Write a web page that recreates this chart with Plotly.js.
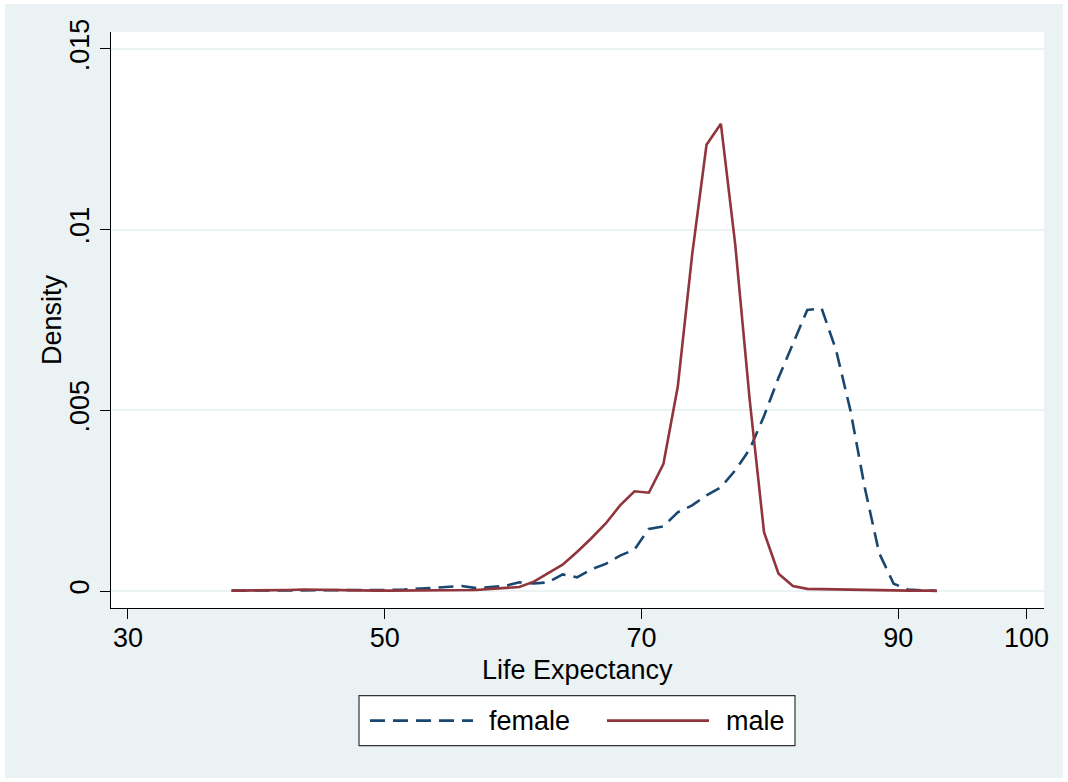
<!DOCTYPE html>
<html>
<head>
<meta charset="utf-8">
<script src="https://cdn.plot.ly/plotly-3.0.1.min.js"></script>
<style>
  html, body { margin: 0; padding: 0; background: #ffffff; }
  #chart { position: absolute; left: 5px; top: 4px; width: 1058px; height: 774px; }
</style>
</head>
<body>
<div id="chart"></div>
<script>
// Evaluation points (Life Expectancy)
var lifeExp = [38.07, 39.19, 40.31, 41.43, 42.55, 43.68, 44.80, 45.92, 47.04, 48.16,
               49.28, 50.40, 51.52, 52.65, 53.77, 54.89, 56.01, 57.13, 58.25, 59.37,
               60.49, 61.62, 62.74, 63.86, 64.98, 66.10, 67.22, 68.34, 69.46, 70.58,
               71.71, 72.83, 73.95, 75.07, 76.19, 77.31, 78.43, 79.55, 80.68, 81.80,
               82.92, 84.04, 85.16, 86.28, 87.40, 88.52, 89.65, 90.77, 91.89, 93.01];

var femaleDensity = [0.00001, 0.00001, 0.00001, 0.00001, 0.00002, 0.00002, 0.00002, 0.00003, 0.00002, 0.00003,
                     0.00003, 0.00003, 0.00004, 0.00007, 0.00008, 0.00013, 0.00014, 0.00008, 0.00010, 0.00014,
                     0.00024, 0.00021, 0.00024, 0.00046, 0.00038, 0.00060, 0.00075, 0.00098, 0.00115, 0.00172,
                     0.00179, 0.00218, 0.00237, 0.00265, 0.00287, 0.00334, 0.00392, 0.00484, 0.00590, 0.00686,
                     0.00778, 0.00782, 0.00667, 0.00500, 0.00286, 0.00105, 0.00020, 0.00004, 0.00001, 0.00000];

var maleDensity = [0.00001, 0.00001, 0.00001, 0.00002, 0.00003, 0.00004, 0.00003, 0.00002, 0.00002, 0.00002,
                   0.00001, 0.00001, 0.00001, 0.00001, 0.00001, 0.00002, 0.00002, 0.00003, 0.00006, 0.00009,
                   0.00011, 0.00026, 0.00049, 0.00073, 0.00108, 0.00146, 0.00187, 0.00237, 0.00276, 0.00272,
                   0.00351, 0.00565, 0.00930, 0.01235, 0.01293, 0.00958, 0.00530, 0.00163, 0.00048, 0.00014,
                   0.00006, 0.00005, 0.00004, 0.00003, 0.00002, 0.00001, 0.00001, 0.00001, 0.00001, 0.00001];

var xTickVals = [30, 50, 70, 90, 100];
var xTickText = ['30', '50', '70', '90', '100'];
var yTickVals = [0, 0.005, 0.01, 0.015];
var yTickText = ['0', '.005', '.01', '.015'];
var seriesNames = ['female', 'male'];
var xTitle = 'Life Expectancy';
var yTitle = 'Density';

var FEMALE_COLOR = '#1A476F';
var MALE_COLOR = '#90353B';
var BG = '#EAF2F3';
var FONT = 'Liberation Sans, Arial, Helvetica, sans-serif';
var FS = 27;
var DASH = '15px,8px';

var traces = [
  { x: lifeExp, y: femaleDensity, name: seriesNames[0], type: 'scatter', mode: 'lines',
    line: { color: FEMALE_COLOR, width: 2.6, dash: DASH }, showlegend: false },
  { x: lifeExp, y: maleDensity, name: seriesNames[1], type: 'scatter', mode: 'lines',
    line: { color: MALE_COLOR, width: 2.6 }, showlegend: false }
];

// plot area in page px: x 111..1044, y 32..607.5
function px2paperX(px) { return (px - 111) / 933; }
function px2paperY(py) { return (607.5 - py) / 575.5; }

var legendY = px2paperY(720);
var shapes = [
  { type: 'rect', xref: 'paper', yref: 'paper', x0: px2paperX(359), x1: px2paperX(795),
    y0: px2paperY(745), y1: px2paperY(695), fillcolor: '#ffffff',
    line: { color: '#333333', width: 1.2 } },
  { type: 'line', xref: 'paper', yref: 'paper', x0: px2paperX(370), x1: px2paperX(473),
    y0: legendY, y1: legendY, line: { color: FEMALE_COLOR, width: 2.6, dash: DASH } },
  { type: 'line', xref: 'paper', yref: 'paper', x0: px2paperX(607), x1: px2paperX(709),
    y0: legendY, y1: legendY, line: { color: MALE_COLOR, width: 2.6 } }
];

var txtFont = { family: FONT, size: FS, color: '#000000' };
var annotations = [
  { xref: 'paper', yref: 'paper', x: px2paperX(487), y: legendY, xanchor: 'left', yanchor: 'middle',
    text: seriesNames[0], showarrow: false, font: txtFont },
  { xref: 'paper', yref: 'paper', x: px2paperX(724), y: legendY, xanchor: 'left', yanchor: 'middle',
    text: seriesNames[1], showarrow: false, font: txtFont },
  { xref: 'paper', yref: 'paper', x: 0.5, y: px2paperY(669), xanchor: 'center', yanchor: 'middle',
    text: xTitle, showarrow: false, font: txtFont, borderpad: 0 },
  { xref: 'paper', yref: 'paper', x: px2paperX(52), y: 0.5, xanchor: 'center', yanchor: 'middle',
    text: yTitle, textangle: -90, showarrow: false, font: txtFont }
];

var layout = {
  width: 1058, height: 774,
  paper_bgcolor: BG, plot_bgcolor: '#ffffff',
  margin: { l: 106, r: 19, t: 28, b: 170, pad: 0 },
  font: txtFont,
  showlegend: false,
  xaxis: {
    range: [28.68, 101.36], tickmode: 'array', tickvals: xTickVals, ticktext: xTickText,
    showgrid: false, zeroline: false, showline: true, linecolor: '#000000', linewidth: 1,
    ticks: 'outside', ticklen: 10, tickwidth: 1, tickcolor: '#000000', ticklabelstandoff: -4,
    tickfont: txtFont, automargin: false, fixedrange: true
  },
  yaxis: {
    range: [-0.00047, 0.01547], tickmode: 'array', tickvals: yTickVals, ticktext: yTickText,
    showgrid: true, gridcolor: BG, gridwidth: 2, zeroline: false,
    showline: true, linecolor: '#000000', linewidth: 1,
    ticks: 'outside', ticklen: 10, tickwidth: 1, tickcolor: '#000000', tickangle: -90,
    tickfont: txtFont, automargin: false, fixedrange: true
  },
  shapes: shapes,
  annotations: annotations
};

Plotly.newPlot('chart', traces, layout, { displayModeBar: false, staticPlot: true });
</script>
</body>
</html>
